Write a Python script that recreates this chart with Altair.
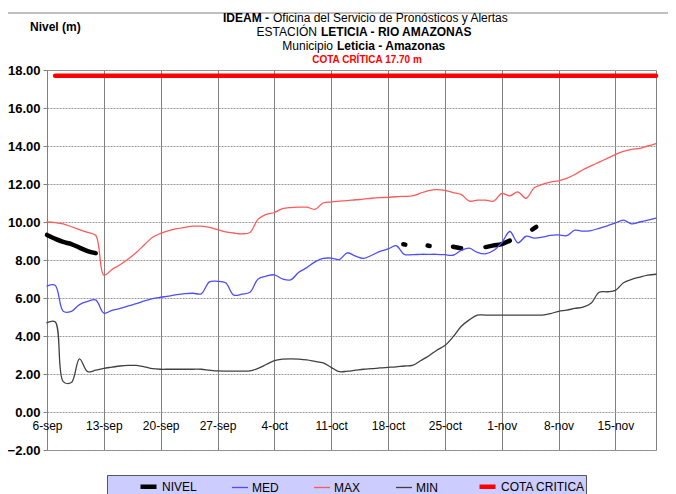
import altair as alt
import pandas as pd

# ---------------- data ----------------
fechas = pd.date_range("2021-09-06", periods=76, freq="D")

med = [6.63, 6.67, 5.30, 5.30, 5.65, 5.82, 5.90, 5.20, 5.35, 5.45,
       5.58, 5.70, 5.85, 5.97, 6.04, 6.10, 6.18, 6.23, 6.25, 6.22,
       6.85, 6.88, 6.80, 6.15, 6.20, 6.30, 7.00, 7.15, 7.22, 7.00,
       6.95, 7.35, 7.60, 7.90, 8.08, 8.10, 8.02, 8.38, 8.20, 8.09,
       8.25, 8.45, 8.58, 8.75, 8.30, 8.28, 8.30, 8.30, 8.30, 8.28,
       8.25, 8.50, 8.62, 8.40, 8.32, 8.50, 8.90, 9.50, 8.90, 9.25,
       9.15, 9.20, 9.30, 9.32, 9.28, 9.57, 9.52, 9.55, 9.67, 9.80,
       9.95, 10.10, 9.90, 10.00, 10.10, 10.20]

maxv = [10.00, 9.97, 9.90, 9.75, 9.60, 9.45, 9.30, 7.20, 7.50, 7.75,
        8.05, 8.40, 8.80, 9.20, 9.40, 9.55, 9.65, 9.72, 9.78, 9.78,
        9.72, 9.60, 9.48, 9.42, 9.38, 9.45, 10.15, 10.40, 10.50, 10.70,
        10.76, 10.78, 10.78, 10.67, 11.00, 11.05, 11.10, 11.12, 11.17, 11.20,
        11.25, 11.28, 11.30, 11.33, 11.35, 11.37, 11.52, 11.65, 11.70, 11.66,
        11.55, 11.45, 11.10, 11.15, 11.15, 11.10, 11.50, 11.38, 11.58, 11.25,
        11.80, 11.98, 12.10, 12.17, 12.30, 12.50, 12.75, 12.95, 13.15, 13.35,
        13.55, 13.72, 13.82, 13.88, 14.00, 14.12]

minv = [4.70, 4.75, 1.60, 1.55, 2.80, 2.12, 2.20, 2.30, 2.36, 2.42,
        2.45, 2.45, 2.38, 2.28, 2.25, 2.25, 2.25, 2.25, 2.25, 2.25,
        2.20, 2.16, 2.15, 2.15, 2.15, 2.16, 2.30, 2.50, 2.70, 2.78,
        2.80, 2.78, 2.74, 2.66, 2.58, 2.35, 2.12, 2.15, 2.20, 2.25,
        2.28, 2.32, 2.35, 2.38, 2.42, 2.45, 2.70, 2.95, 3.25, 3.50,
        3.95, 4.50, 4.85, 5.10, 5.10, 5.10, 5.10, 5.10, 5.10, 5.10,
        5.10, 5.10, 5.18, 5.30, 5.36, 5.45, 5.52, 5.72, 6.30, 6.33,
        6.40, 6.80, 6.98, 7.10, 7.20, 7.25]

cota_fechas = fechas[1:]
cota = [17.70] * len(cota_fechas)

nivel_fechas = ["2021-09-06T00:00", "2021-09-07T00:00", "2021-09-08T00:00", "2021-09-09T00:00",
                "2021-09-10T00:00", "2021-09-11T00:00", "2021-09-12T00:00",
                "2021-10-19T21:00", "2021-10-20T03:00",
                "2021-10-22T21:00", "2021-10-23T03:00",
                "2021-10-26T00:00", "2021-10-27T00:00",
                "2021-10-30T00:00", "2021-10-31T00:00", "2021-11-01T00:00", "2021-11-02T00:00",
                "2021-11-04T18:00", "2021-11-05T06:00"]
nivel = [9.32, 9.12, 8.95, 8.84, 8.65, 8.47, 8.36,
         8.83, 8.81,
         8.76, 8.74,
         8.70, 8.62,
         8.68, 8.77, 8.84, 9.02,
         9.60, 9.74]
nivel_tramo = [1, 1, 1, 1, 1, 1, 1, 2, 2, 3, 3, 4, 4, 5, 5, 5, 5, 6, 6]

series = ["NIVEL", "MED", "MAX", "MIN", "COTA CRITICA"]
colores = ["#000000", "#4d4dff", "#ff5a5a", "#404040", "#ff0000"]
grosores = [4.5, 1.3, 1.3, 1.3, 4.5]

tick_fechas = pd.date_range("2021-09-06", "2021-11-15", freq="7D")
y_ticks = [-2, 0, 2, 4, 6, 8, 10, 12, 14, 16, 18]

# ---------------- long table ----------------
frames = [
    pd.DataFrame({"fecha": pd.to_datetime(nivel_fechas, format="%Y-%m-%dT%H:%M"), "valor": nivel,
                  "serie": "NIVEL", "grupo": ["N%d" % t for t in nivel_tramo]}),
    pd.DataFrame({"fecha": fechas, "valor": med, "serie": "MED", "grupo": "MED"}),
    pd.DataFrame({"fecha": fechas, "valor": maxv, "serie": "MAX", "grupo": "MAX"}),
    pd.DataFrame({"fecha": fechas, "valor": minv, "serie": "MIN", "grupo": "MIN"}),
    pd.DataFrame({"fecha": cota_fechas, "valor": cota, "serie": "COTA CRITICA",
                  "grupo": "COTA"}),
]
df = pd.concat(frames, ignore_index=True)
df["fecha"] = df["fecha"].dt.strftime("%Y-%m-%dT%H:%M:%S")

SANS = "Liberation Sans, Arial"
NB = "\u00a0"

leg = alt.Legend(
    title=" ", titleOrient="left", titlePadding=30,
    orient="none", legendX=60, legendY=405, direction="horizontal",
    fillColor="#ccccff", strokeColor="#555555", padding=1,
    labelFont=SANS, labelFontSize=12, labelColor="#000000",
    symbolType="stroke", symbolSize=256, labelOffset=3, columnPadding=32,
    labelExpr="datum.label == 'COTA CRITICA' ? 'COTA CRITICA" + NB * 9 + "' : datum.label",
)

x_enc = alt.X(
    "fecha:T",
    scale=alt.Scale(domain=[alt.DateTime(year=2021, month=9, date=6),
                            alt.DateTime(year=2021, month=11, date=20)]),
    axis=alt.Axis(
        values=[alt.DateTime(year=d.year, month=d.month, date=d.day) for d in tick_fechas],
        labelExpr="timeFormat(datum.value, '%-d') + '-' + lower(timeFormat(datum.value, '%b'))",
        title=None, offset=-38, domain=False, ticks=False, labelPadding=8,
        labelFont=SANS, labelFontSize=12, labelColor="#000000",
        grid=True, gridColor="#808080", gridWidth=1, labelFlush=False,
    ),
)
y_enc = alt.Y(
    "valor:Q",
    scale=alt.Scale(domain=[-2, 18], nice=False, zero=False),
    axis=alt.Axis(
        values=y_ticks, format=".2f", title=None, domain=False,
        ticks=True, tickSize=4, tickColor="#808080", labelPadding=3,
        labelFont=SANS, labelFontSize=13, labelFontWeight="bold", labelColor="#000000",
        grid=True, gridColor="#9a9a9a", gridDash=[2, 1], gridWidth=1,
    ),
)

lineas = alt.Chart(df).mark_line(
    interpolate="catmull-rom", strokeCap="round", strokeJoin="round"
).encode(
    x=x_enc,
    y=y_enc,
    color=alt.Color("serie:N", scale=alt.Scale(domain=series, range=colores), legend=leg),
    strokeWidth=alt.StrokeWidth("serie:N", scale=alt.Scale(type="ordinal", domain=series, range=grosores), legend=leg),
    detail="grupo:N",
)

one = pd.DataFrame({"a": [0]})


def texto(t, x, y, bold=False, color="#000000", size=12, align="left"):
    return alt.Chart(one).mark_text(
        text=t, align=align, baseline="alphabetic", font=SANS, fontSize=size,
        fontWeight="bold" if bold else "normal", color=color,
    ).encode(x=alt.value(x), y=alt.value(y))


marco = alt.Chart(one).mark_rect(
    fillOpacity=0, stroke="#808080", strokeWidth=1
).encode(x=alt.value(-41), x2=alt.value(623), y=alt.value(-57), y2=alt.value(440))

titulos = [
    texto("Nivel (m)", -17, -39, bold=True, size=12),
    texto("IDEAM -", 222, -48, bold=True, align="right"),
    texto("Oficina del Servicio de Pronósticos y Alertas", 226, -48, align="left"),
    texto("ESTACIÓN", 270, -34, align="right"),
    texto("LETICIA  - RIO AMAZONAS", 274, -34, bold=True, align="left"),
    texto("Municipio", 286, -20, align="right"),
    texto("Leticia - Amazonas", 290, -20, bold=True, align="left"),
    texto("COTA CRÍTICA 17.70 m", 320, -7, bold=True, color="#ff0000", size=10, align="center"),
]

chart = alt.layer(marco, lineas, *titulos).properties(
    width=609, height=380,
    padding={"left": 39, "top": 62, "right": 12, "bottom": 44},
    autosize=alt.AutoSizeParams(type="none"),
    background="#ffffff",
).configure_view(stroke="#808080", strokeWidth=1)

chart.save("out.html", embed_options={"renderer": "svg", "actions": False})
